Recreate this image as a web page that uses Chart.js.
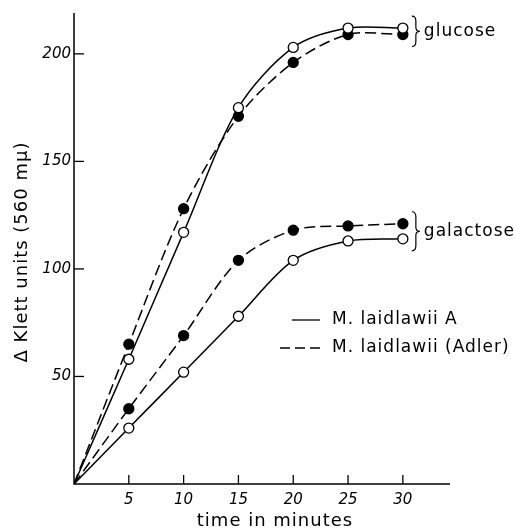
<!DOCTYPE html>
<html>
<head>
<meta charset="utf-8">
<script src="https://cdn.jsdelivr.net/npm/chart.js@4.4.0/dist/chart.umd.min.js"></script>
<style>
  html, body { margin: 0; padding: 0; background: #fff; }
  #wrap { width: 514px; height: 532px; }
</style>
</head>
<body>
<div id="wrap"><canvas id="klettChart"></canvas></div>
<script>
// time points (minutes)
const times = [0, 5, 10, 15, 20, 25, 30];

// Klett units
const glucoseA     = [0, 58, 117, 175, 203, 212, 212];
const glucoseAdler = [0, 65, 128, 171, 196, 209, 209];
const galactoseA     = [0, 26, 52, 78, 104, 113, 114];
const galactoseAdler = [0, 35, 69, 104, 118, 120, 121];

const xTicks = [5, 10, 15, 20, 25, 30];
const yTicks = [50, 100, 150, 200];

const seriesNames = ['M. laidlawii A', 'M. laidlawii (Adler)'];
const sugarLabels = ['glucose', 'galactose'];

const FONT = '"DejaVu Sans", sans-serif';

function toPoints(vals) {
    return times.map((t, i) => ({ x: t, y: vals[i] }));
}

function makeSet(label, vals, filled, dashed) {
    return {
        label: label,
        data: toPoints(vals),
        borderColor: '#000',
        borderWidth: 1.5,
        borderDash: dashed ? [11, 5] : [],
        tension: 0.3,
        pointRadius: times.map(t => t === 0 ? 0 : 5),
        pointBackgroundColor: filled ? '#000' : '#fff',
        pointBorderColor: '#000',
        pointBorderWidth: 1.3,
        fill: false
    };
}

/* draws axes, inward ticks, labels, braces and legend */
const decorations = {
    id: 'decorations',
    afterDraw(chart) {
        const ctx = chart.ctx;
        const xs = chart.scales.x, ys = chart.scales.y;
        const a = chart.chartArea;
        ctx.save();
        ctx.strokeStyle = '#000';
        ctx.fillStyle = '#000';
        ctx.lineWidth = 1.5;

        // axes
        ctx.beginPath();
        ctx.moveTo(a.left, a.top);
        ctx.lineTo(a.left, a.bottom);
        ctx.lineTo(a.right, a.bottom);
        ctx.stroke();

        // inward ticks
        ctx.lineWidth = 1.3;
        xTicks.forEach(v => {
            const px = xs.getPixelForValue(v);
            ctx.beginPath();
            ctx.moveTo(px, a.bottom);
            ctx.lineTo(px, a.bottom - 9);
            ctx.stroke();
        });
        yTicks.forEach(v => {
            const py = ys.getPixelForValue(v);
            ctx.beginPath();
            ctx.moveTo(a.left, py);
            ctx.lineTo(a.left + 10, py);
            ctx.stroke();
        });

        if ('letterSpacing' in ctx) ctx.letterSpacing = '1px';

        // braces + sugar labels
        const groups = [[glucoseA, glucoseAdler], [galactoseA, galactoseAdler]];
        groups.forEach((g, i) => {
            const last = times.length - 1;
            const y1 = ys.getPixelForValue(Math.max(g[0][last], g[1][last]));
            const y2 = ys.getPixelForValue(Math.min(g[0][last], g[1][last]));
            const top = y1 - 12, bot = y2 + 12, mid = (top + bot) / 2;
            const bx = xs.getPixelForValue(30) + 9;
            ctx.lineWidth = 1.2;
            ctx.beginPath();
            ctx.moveTo(bx, top);
            ctx.quadraticCurveTo(bx + 4, top, bx + 4, top + 5);
            ctx.lineTo(bx + 4, mid - 4);
            ctx.quadraticCurveTo(bx + 4, mid, bx + 8, mid);
            ctx.quadraticCurveTo(bx + 4, mid, bx + 4, mid + 4);
            ctx.lineTo(bx + 4, bot - 5);
            ctx.quadraticCurveTo(bx + 4, bot, bx, bot);
            ctx.stroke();
            ctx.font = '17px ' + FONT;
            ctx.textAlign = 'left';
            ctx.textBaseline = 'middle';
            ctx.fillText(sugarLabels[i], bx + 12, mid);
        });

        // legend
        ctx.font = '17px ' + FONT;
        ctx.textBaseline = 'middle';
        ctx.lineWidth = 1.3;
        ctx.beginPath();
        ctx.moveTo(292, 320);
        ctx.lineTo(320, 320);
        ctx.stroke();
        ctx.fillText(seriesNames[0], 332, 320);
        ctx.setLineDash([10, 5]);
        ctx.beginPath();
        ctx.moveTo(280, 348);
        ctx.lineTo(320, 348);
        ctx.stroke();
        ctx.setLineDash([]);
        ctx.fillText(seriesNames[1], 332, 348);

        // axis titles
        ctx.font = '18px ' + FONT;
        ctx.textAlign = 'center';
        ctx.fillText('time in minutes', 275, 521);
        ctx.translate(22, 252);
        ctx.rotate(-Math.PI / 2);
        ctx.fillText('\u0394 Klett units (560 m\u03bc)', 0, 0);
        ctx.restore();
    }
};

const ctx = document.getElementById('klettChart').getContext('2d');
const klettChart = new Chart(ctx, {
    type: 'line',
    data: {
        datasets: [
            makeSet('glucose A', glucoseA, false, false),
            makeSet('glucose Adler', glucoseAdler, true, true),
            makeSet('galactose A', galactoseA, false, false),
            makeSet('galactose Adler', galactoseAdler, true, true)
        ]
    },
    options: {
        responsive: true,
        maintainAspectRatio: false,
        animation: false,
        layout: { padding: { top: 13, right: 64, left: 0, bottom: 0 } },
        plugins: {
            legend: { display: false },
            tooltip: { enabled: false }
        },
        scales: {
            x: {
                type: 'linear',
                min: 0,
                max: 34.3,
                grid: { display: false, drawTicks: false },
                border: { display: false },
                afterBuildTicks: s => { s.ticks = xTicks.map(v => ({ value: v })); },
                afterFit: s => { s.height = 48; },
                ticks: {
                    color: '#000',
                    padding: 7,
                    maxRotation: 0,
                    font: { family: FONT, size: 15, style: 'italic' }
                }
            },
            y: {
                min: 0,
                max: 219,
                grid: { display: false, drawTicks: false },
                border: { display: false },
                afterBuildTicks: s => { s.ticks = yTicks.map(v => ({ value: v })); },
                afterFit: s => { s.width = 74; },
                ticks: {
                    color: '#000',
                    padding: 3,
                    font: { family: FONT, size: 15, style: 'italic' }
                }
            }
        }
    },
    plugins: [decorations]
});
</script>
</body>
</html>
